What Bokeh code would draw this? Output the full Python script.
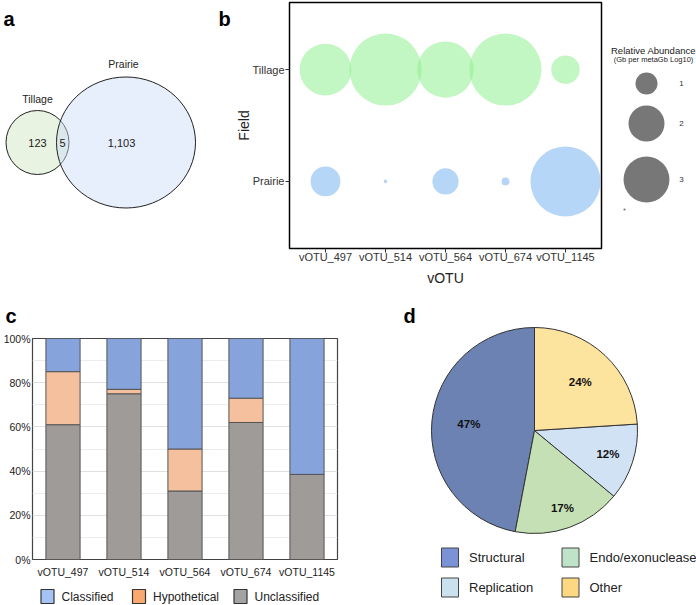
import numpy as np
from bokeh.plotting import figure
from bokeh.layouts import column, row
from bokeh.models import Range1d, FixedTicker, PrintfTickFormatter, ColumnDataSource
from bokeh.core.properties import value
from bokeh.embed import file_html
from bokeh.resources import INLINE

FONT = "Liberation Sans"

# ---------------- data ----------------
# (a) Venn diagram
venn_sets = ["Tillage", "Prairie"]
venn_regions = ["Tillage only", "Shared", "Prairie only"]
venn_counts = [123, 5, 1103]

# (b) bubble chart
votus = ["vOTU_497", "vOTU_514", "vOTU_564", "vOTU_674", "vOTU_1145"]
fields = ["Prairie", "Tillage"]
abund_tillage = [3.7, 6.8, 4.3, 6.8, 1.4]
abund_prairie = [1.5, 0.42, 1.25, 0.48, 6.45]
abund_legend_breaks = [1, 2, 3, 0.41]
abund_legend_labels = ["1", "2", "3", ""]

# (c) stacked bars (%)
annot_classes = ["Unclassified", "Hypothetical", "Classified"]
unclassified = [61, 75, 31, 62, 38.5]
hypothetical = [24, 2, 19, 11, 0]
classified = [15, 23, 50, 27, 61.5]
pct_ticks = [0, 20, 40, 60, 80, 100]
legend_order_c = ["Classified", "Hypothetical", "Unclassified"]

# (d) pie (%)
func_cats = ["Structural", "Endo/exonuclease", "Replication", "Other"]
func_pct = [47, 17, 12, 24]

# ---------------- helpers ----------------
def bubble_diam(v):
    v = np.asarray(v, dtype=float)
    return 2 * np.sqrt(np.maximum(203 * v - 82, 1.0))

def blank(width, height, xr, yr):
    p = figure(width=width, height=height, x_range=xr, y_range=yr,
               x_axis_type=None, y_axis_type=None, toolbar_location=None,
               output_backend="svg", min_border=0, outline_line_color=None)
    p.grid.visible = False
    return p

def letter(p, x, y, t):
    p.text(x=[x], y=[y], text=[t], text_align="left", text_baseline="middle",
           text_font=value(FONT), text_font_size="20px", text_font_style="bold", text_color="black")

TOP_B, BOT_B = 2, 42          # panel b frame borders (top row)

# ---------------- panel a ----------------
A_W = 231
pa = figure(width=A_W, height=290, x_range=Range1d(0, A_W), y_range=Range1d(290 - BOT_B, TOP_B),
            x_axis_type=None, y_axis_type=None, toolbar_location=None,
            output_backend="svg", min_border_left=0, min_border_right=0,
            min_border_top=TOP_B, min_border_bottom=BOT_B, outline_line_color=None)
pa.grid.visible = False
venn_cx = [37, 125.5]
venn_cy = [142, 142]
venn_w = [63, 139]
venn_h = [64, 131]
venn_fill = ["#c5e0b4", "#c9daf8"]
venn_alpha = [0.4, 0.45]
for i in range(2):
    pa.ellipse(x=[venn_cx[i]], y=[venn_cy[i]], width=[venn_w[i]], height=[venn_h[i]],
               fill_color=venn_fill[i], fill_alpha=venn_alpha[i], line_color="#222222", line_width=1)
pa.text(x=[venn_cx[0], 123], y=[venn_cy[0] - venn_h[0] / 2 - 12, venn_cy[1] - venn_h[1] / 2 - 13],
        text=venn_sets, text_align="center", text_baseline="middle",
        text_font=value(FONT), text_font_size="10.5px", text_color="#222222")
pa.text(x=[37, 62, 121], y=[142, 142, 142], text=[f"{n:,}" for n in venn_counts],
        text_align="center", text_baseline="middle",
        text_font=value(FONT), text_font_size="11px", text_color="#222222")
letter(pa, 3, 18, "a")
letter(pa, 218, 18, "b")

# ---------------- panel b ----------------
xs = np.arange(1, len(votus) + 1)
pb = figure(width=610 - A_W, height=290, x_range=Range1d(0.4, len(votus) + 0.6),
            y_range=Range1d(0.4, len(fields) + 0.6), toolbar_location=None,
            output_backend="svg", min_border_left=58, min_border_right=9,
            min_border_top=TOP_B, min_border_bottom=BOT_B)
pb.grid.visible = False
pb.outline_line_color = "black"
pb.outline_line_width = 1.5
yt = fields.index("Tillage") + 1
yp = fields.index("Prairie") + 1
pb.scatter(x=xs, y=[yt] * len(xs), size=bubble_diam(abund_tillage),
           fill_color="#90ee90", fill_alpha=0.55, line_color=None)
pb.scatter(x=xs, y=[yp] * len(xs), size=bubble_diam(abund_prairie),
           fill_color="#7ab4f0", fill_alpha=0.55, line_color=None)
pb.xaxis.ticker = FixedTicker(ticks=[int(v) for v in xs])
pb.xaxis.major_label_overrides = {int(i): v for i, v in zip(xs, votus)}
pb.yaxis.ticker = FixedTicker(ticks=[1, 2])
pb.yaxis.major_label_overrides = {i + 1: f for i, f in enumerate(fields)}
pb.xaxis.axis_label = "vOTU"
pb.yaxis.axis_label = "Field"
for ax in (pb.xaxis[0], pb.yaxis[0]):
    ax.axis_line_color = None
    ax.major_tick_in = 0
    ax.major_tick_out = 4
    ax.major_tick_line_color = "#333333"
    ax.minor_tick_line_color = None
    ax.major_label_text_font = FONT
    ax.major_label_text_font_size = "11px"
    ax.major_label_text_color = "#333333"
    ax.axis_label_text_font = FONT
    ax.axis_label_text_font_size = "14px"
    ax.axis_label_text_font_style = "normal"
    ax.axis_label_text_color = "#222222"
pb.xaxis.major_label_standoff = -2
pb.xaxis.axis_label_standoff = 4
pb.yaxis.major_label_standoff = 1
pb.yaxis.axis_label_standoff = -2

# legend of panel b
pbl = figure(width=696 - 610, height=290, x_range=Range1d(610, 696), y_range=Range1d(290 - BOT_B, TOP_B),
             x_axis_type=None, y_axis_type=None, toolbar_location=None,
             output_backend="svg", min_border_left=0, min_border_right=0,
             min_border_top=TOP_B, min_border_bottom=BOT_B, outline_line_color=None)
pbl.grid.visible = False
leg_y = [83, 123, 179, 209]
leg_x = [646, 646, 646, 624]
pbl.scatter(x=leg_x, y=leg_y, size=bubble_diam(abund_legend_breaks),
            fill_color="#777777", line_color=None)
pbl.text(x=[681] * 4, y=leg_y, text=abund_legend_labels, text_align="center",
         text_baseline="middle", text_font=value(FONT), text_font_size="8px", text_color="#333333")
pbl.text(x=[653, 653], y=[50, 59], text=["Relative Abundance", "(Gb per metaGb Log10)"],
         text_align="center", text_baseline="middle", text_font=value(FONT),
         text_font_size=["9.5px", "7.5px"], text_color="#222222")

# ---------------- panel c ----------------
C_W = 370
pcs = blank(C_W, 40, Range1d(0, C_W), Range1d(330, 290))
letter(pcs, 5, 315, "c")

pc = figure(width=C_W, height=250, x_range=Range1d(0.5, len(votus) + 0.5), y_range=Range1d(0, 100),
            toolbar_location=None, output_backend="svg",
            min_border_left=32, min_border_right=33, min_border_top=8, min_border_bottom=20)
src = ColumnDataSource(dict(x=xs, Unclassified=unclassified, Hypothetical=hypothetical,
                            Classified=classified))
bar_colors = ["#9e9b99", "#f5c09e", "#87a3db"]
rs = pc.vbar_stack(annot_classes, x="x", width=0.56, source=src,
                   fill_color=bar_colors, line_color="#555555", line_width=1)
pc.xgrid.visible = False
pc.ygrid.grid_line_color = "#e0e0e0"
pc.ygrid.minor_grid_line_color = "#ececec"
pc.yaxis.ticker = FixedTicker(ticks=pct_ticks, minor_ticks=list(range(10, 100, 20)))
pc.yaxis.formatter = PrintfTickFormatter(format="%d%%")
pc.xaxis.ticker = FixedTicker(ticks=[int(v) for v in xs])
pc.xaxis.major_label_overrides = {int(i): v for i, v in zip(xs, votus)}
pc.outline_line_color = "#444444"
pc.outline_line_width = 1.2
for ax in (pc.xaxis[0], pc.yaxis[0]):
    ax.axis_line_color = None
    ax.major_tick_line_color = None
    ax.minor_tick_line_color = None
    ax.major_label_text_font = FONT
    ax.major_label_text_font_size = "10.5px"
    ax.major_label_text_color = "#222222"
pc.xaxis.major_label_standoff = 0
pc.yaxis.major_label_standoff = -4

# legend strip for panel c
pcl = blank(C_W, 25, Range1d(0, C_W), Range1d(605, 580))
legend_colors_c = {"Classified": "#a4c2f4", "Hypothetical": "#f9a870", "Unclassified": "#a3a3a3"}
leg_box_x = [47, 138.5, 240]
leg_box_y = 596
pcl.rect(x=leg_box_x, y=[leg_box_y] * 3, width=13, height=14,
         fill_color=[legend_colors_c[k] for k in legend_order_c], line_color="#333333", line_width=1.2)
pcl.text(x=[b + 14 for b in leg_box_x], y=[leg_box_y] * 3, text=legend_order_c,
         text_align="left", text_baseline="middle", text_font=value(FONT),
         text_font_size="12px", text_color="#222222")

# ---------------- panel d ----------------
D_W, D_H = 696 - 370, 315
pdp = blank(D_W, D_H, Range1d(0, D_W), Range1d(0, D_H))
pie_cx, pie_cy, pie_r = 164, 175, 103
pie_colors = ["#6b82b2", "#c5e0b4", "#d0e2f3", "#fde49e"]
frac = np.array(func_pct, dtype=float) / sum(func_pct)
cum = np.concatenate([[0], np.cumsum(frac)]) * 2 * np.pi
starts = np.pi / 2 + cum[:-1]
ends = np.pi / 2 + cum[1:]
pdp.wedge(x=pie_cx, y=pie_cy, radius=pie_r, start_angle=starts, end_angle=ends,
          fill_color=pie_colors, line_color="#333333", line_width=1)
lab_frac = [0.64, 0.8, 0.75, 0.65]
mids = (starts + ends) / 2
lx = pie_cx + np.array(lab_frac) * pie_r * np.cos(mids)
ly = pie_cy + np.array(lab_frac) * pie_r * np.sin(mids)
pdp.text(x=lx, y=ly, text=[f"{p}%" for p in func_pct], text_align="center", text_baseline="middle",
         text_font=value(FONT), text_font_size="11.5px", text_font_style="bold", text_color="#111111")
legend_colors = ["#7b93d6", "#bfe3c8", "#c9e2ee", "#fdd883"]
leg_cols = [79.5, 200]
leg_rows = [48, 18]
bx = [leg_cols[i % 2] for i in range(len(func_cats))]
by = [leg_rows[i // 2] for i in range(len(func_cats))]
pdp.rect(x=bx, y=by, width=17, height=19, fill_color=legend_colors, line_color="#444444", line_width=1)
pdp.text(x=[b + 19 for b in bx], y=by, text=func_cats, text_align="left", text_baseline="middle",
         text_font=value(FONT), text_font_size="13px", text_color="#222222")
letter(pdp, 33, 290, "d")

layout = column(row(column(pa), column(pb), column(pbl)),
                row(column(row(pcs), row(pc), row(pcl)), column(pdp)))
open("out.html", "w").write(file_html(layout, INLINE))
